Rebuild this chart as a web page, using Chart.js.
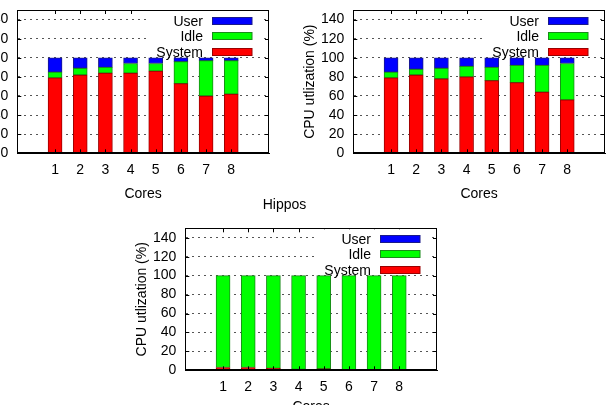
<!DOCTYPE html>
<html>
<head>
<meta charset="utf-8">
<script src="https://cdn.jsdelivr.net/npm/chart.js@4.4.0/dist/chart.umd.min.js"></script>
<style>
html, body { margin: 0; padding: 0; width: 609px; height: 405px; overflow: hidden; background: #fff; }
canvas { position: absolute; }
</style>
</head>
<body>
<canvas id="chartLeft" width="309" height="210" style="left:-36px;top:0px"></canvas>
<canvas id="chartRight" width="309" height="210" style="left:300px;top:0px"></canvas>
<canvas id="chartHippos" width="359" height="242" style="left:132px;top:185px"></canvas>
<script>
const cores = [1, 2, 3, 4, 5, 6, 7, 8];
const yTicks = [0, 20, 40, 60, 80, 100, 120, 140];

// top left panel
const systemLeft = [79, 82, 84, 84, 86, 73, 60, 62];
const idleLeft   = [6, 7, 6, 10, 8, 23, 37, 35];
const userLeft   = [15, 11, 10, 6, 6, 4, 3, 3];

// top right panel
const systemRight = [79, 82, 78, 80, 76, 74, 64, 56];
const idleRight   = [6, 6, 11, 11, 14, 18, 28, 38];
const userRight   = [15, 12, 11, 9, 10, 8, 8, 6];

// Hippos
const systemHippos = [3, 3, 2, 1, 1.5, 0.5, 0.5, 0.5];
const idleHippos   = [97, 97, 98, 99, 98.5, 99.5, 99.5, 99.5];
const userHippos   = [0, 0, 0, 0, 0, 0, 0, 0];

const FONT = { family: '"Liberation Sans", Arial, sans-serif', size: 14, weight: 'normal' };

// gnuplot-ish frame, mirror ticks and key inside the plot
const framePlugin = {
  id: 'frame',
  afterDatasetsDraw(chart) {
    const { ctx, chartArea: a, scales } = chart;
    ctx.save();
    ctx.strokeStyle = '#000';
    ctx.lineWidth = 1;
    ctx.strokeRect(Math.round(a.left) + 0.5, Math.round(a.top) + 0.5,
      Math.round(a.right - a.left) - 1, Math.round(a.bottom - a.top) - 1);
    ctx.beginPath();
    cores.forEach(c => {
      const x = Math.round(scales.x.getPixelForValue(c)) + 0.5;
      ctx.moveTo(x, a.bottom); ctx.lineTo(x, a.bottom - 4);
      ctx.moveTo(x, a.top); ctx.lineTo(x, a.top + 4);
    });
    yTicks.forEach(v => {
      const y = Math.round(scales.y.getPixelForValue(v)) + 0.5;
      ctx.moveTo(a.left, y); ctx.lineTo(a.left + 4, y);
      ctx.moveTo(a.right, y); ctx.lineTo(a.right - 4, y);
    });
    ctx.stroke();

    // key
    ctx.fillStyle = '#fff';
    ctx.fillRect(a.right - 122, a.top + 1, 114, 44);
    ctx.font = '14px "Liberation Sans", Arial, sans-serif';
    ctx.textAlign = 'right';
    ctx.textBaseline = 'middle';
    const ds = chart.data.datasets;
    for (let i = 0; i < ds.length; i++) {
      const d = ds[ds.length - 1 - i];
      const y = Math.round(a.top + 10.7 + i * 15.4);
      ctx.fillStyle = d.backgroundColor;
      ctx.fillRect(a.right - 56.5, y - 3.5, 39.5, 7);
      ctx.strokeStyle = d.borderColor;
      ctx.strokeRect(a.right - 56.5, y - 3.5, 39.5, 7);
      ctx.fillStyle = '#000';
      ctx.fillText(d.label, a.right - 66, y + 1);
    }
    ctx.restore();
  }
};

function makeChart(id, system, idle, user, title) {
  const toPoints = vals => cores.map((c, i) => ({ x: c, y: vals[i] }));
  const barStyle = { barThickness: 14, borderWidth: 1, borderSkipped: false };
  new Chart(document.getElementById(id), {
    type: 'bar',
    data: {
      datasets: [
        { label: 'System', data: toPoints(system), backgroundColor: '#ff0000', borderColor: '#9a0000', ...barStyle },
        { label: 'Idle', data: toPoints(idle), backgroundColor: '#00ff00', borderColor: '#1a8a1a', ...barStyle },
        { label: 'User', data: toPoints(user), backgroundColor: '#0000ff', borderColor: '#1a1a8a', ...barStyle }
      ]
    },
    options: {
      responsive: false,
      animation: false,
      layout: { padding: { left: 0, top: title ? 0 : 10, right: title ? 54 : 4, bottom: 0 } },
      plugins: {
        legend: { display: false },
        tooltip: { enabled: false },
        title: {
          display: !!title,
          text: title,
          font: FONT,
          color: '#000',
          padding: { top: 11.6, bottom: 14.9 }
        }
      },
      scales: {
        x: {
          type: 'linear',
          min: 0,
          max: 9,
          stacked: true,
          grid: { display: false, drawTicks: false, tickLength: 0 },
          border: { color: '#000' },
          ticks: {
            stepSize: 1,
            autoSkip: false,
            padding: 8,
            maxRotation: 0,
            font: FONT,
            color: '#000',
            callback: v => (v >= 1 && v <= 8) ? String(v) : ''
          },
          title: { display: true, text: 'Cores', font: FONT, color: '#000', padding: { top: 0, bottom: title ? 11 : 7.8 } },
          afterFit: s => { s.height = 56.7; s.paddingLeft = 0; s.paddingRight = 0; }
        },
        y: {
          min: 0,
          max: 150,
          stacked: true,
          afterBuildTicks: s => { s.ticks = yTicks.map(v => ({ value: v })); },
          grid: { color: '#555', drawTicks: false },
          border: { color: '#000', dash: [2, 4] },
          ticks: { padding: 9, autoSkip: false, font: FONT, color: '#000' },
          title: { display: true, text: 'CPU utlization (%)', font: FONT, color: '#000', padding: { top: 1.6, bottom: 0 } },
          afterFit: s => { s.width = 53.3; s.paddingTop = 0; s.paddingBottom = 0; }
        }
      }
    },
    plugins: [framePlugin]
  });
}

makeChart('chartLeft', systemLeft, idleLeft, userLeft, '');
makeChart('chartRight', systemRight, idleRight, userRight, '');
makeChart('chartHippos', systemHippos, idleHippos, userHippos, 'Hippos');
</script>
</body>
</html>
